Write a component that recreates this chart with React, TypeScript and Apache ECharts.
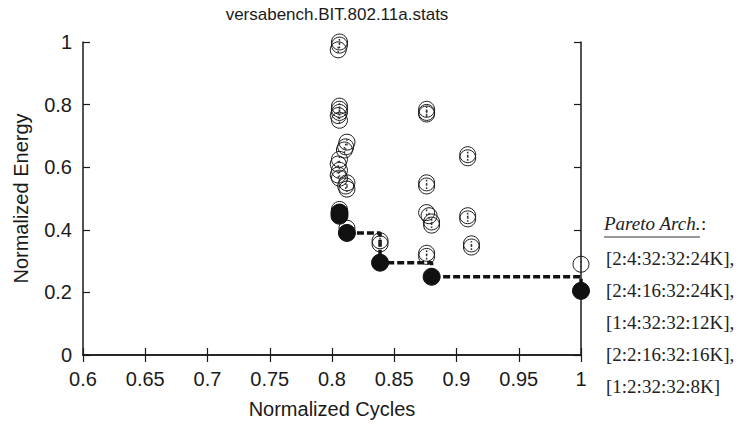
import React, { useEffect, useRef } from "react";
import * as echarts from "echarts";

const titleText = "versabench.BIT.802.11a.stats";
const xName = "Normalized Cycles";
const yName = "Normalized Energy";

// Open circles: all explored configurations [cycles, energy]
const openX = [
  0.806, 0.806, 0.805,
  0.806, 0.806, 0.806, 0.805, 0.806,
  0.812, 0.811, 0.810,
  0.806, 0.805, 0.806, 0.805, 0.806,
  0.812, 0.811, 0.812,
  0.806, 0.806,
  0.812,
  0.8386, 0.8386,
  0.876, 0.876, 0.876,
  0.876, 0.876,
  0.876, 0.878,
  0.880, 0.880,
  0.876, 0.876,
  0.909, 0.909,
  0.909, 0.909,
  0.912, 0.912,
  1.0,
];
const openY = [
  1.0, 0.99, 0.975,
  0.795, 0.785, 0.775, 0.765, 0.75,
  0.68, 0.665, 0.655,
  0.625, 0.61, 0.59, 0.575, 0.565,
  0.55, 0.54, 0.53,
  0.465, 0.455,
  0.405,
  0.365, 0.355,
  0.785, 0.775, 0.77,
  0.55, 0.54,
  0.455, 0.445,
  0.425, 0.415,
  0.325, 0.315,
  0.64, 0.63,
  0.445, 0.435,
  0.355, 0.345,
  0.29,
];

// Filled circles: Pareto-optimal configurations
const paretoX = [0.806, 0.806, 0.812, 0.8386, 0.88, 1.0];
const paretoY = [0.455, 0.445, 0.39, 0.295, 0.25, 0.205];

// Dashed Pareto frontier (step line)
const frontX = [0.812, 0.8386, 0.8386, 0.88, 0.88, 1.0, 1.0];
const frontY = [0.39, 0.39, 0.295, 0.295, 0.25, 0.25, 0.205];

const xTicks = { min: 0.6, max: 1, interval: 0.05 };
const yTicks = { min: 0, max: 1, interval: 0.2 };

const paretoTitle = "Pareto Arch.";
const paretoArchs = [
  "[2:4:32:32:24K],",
  "[2:4:16:32:24K],",
  "[1:4:32:32:12K],",
  "[2:2:16:32:16K],",
  "[1:2:32:32:8K]",
];

export default function App() {
  const ref = useRef<HTMLDivElement>(null);
  useEffect(() => {
    if (!ref.current) return;
    const chart = echarts.init(ref.current, null, { renderer: "svg" });
    const sans = "Liberation Sans, Arial, sans-serif";
    const serif = "Liberation Serif, Times New Roman, serif";
    const axisCommon = {
      axisLine: { show: true, lineStyle: { color: "#1a1a1a", width: 1.5 } },
      axisTick: { show: true, inside: true, length: 7, lineStyle: { color: "#1a1a1a", width: 1.2 } },
      splitLine: { show: false },
    };
    const legendGraphics: any[] = [
      {
        type: "text",
        left: 604,
        top: 214,
        style: { text: paretoTitle, font: `italic 19px ${serif}`, fill: "#222" },
      },
      {
        type: "text",
        left: 701,
        top: 214,
        style: { text: ":", font: `19px ${serif}`, fill: "#222" },
      },
      {
        type: "line",
        shape: { x1: 604, y1: 237, x2: 700, y2: 237 },
        style: { stroke: "#333", lineWidth: 1 },
      },
    ];
    paretoArchs.forEach((t, i) => {
      legendGraphics.push({
        type: "text",
        left: 606,
        top: 249 + i * 32,
        style: { text: t, font: `19px ${serif}`, fill: "#222" },
      });
    });

    chart.setOption({
      animation: false,
      backgroundColor: "#fff",
      title: {
        text: titleText,
        left: 332,
        top: 1,
        textAlign: "center",
        textStyle: { fontFamily: sans, fontSize: 17, fontWeight: "normal", color: "#1a1a1a" },
      },
      grid: { left: 83, right: 163, top: 42, bottom: 75 },
      xAxis: [
        {
          type: "value",
          ...xTicks,
          name: xName,
          nameLocation: "middle",
          nameGap: 44,
          nameTextStyle: { fontFamily: sans, fontSize: 20, color: "#1a1a1a" },
          axisLabel: { fontFamily: sans, fontSize: 20, color: "#1a1a1a", margin: 14, formatter: (v: number) => String(+v.toFixed(2)) },
          ...axisCommon,
        },
        {
          type: "value",
          position: "top",
          ...xTicks,
          axisLabel: { show: false },
          ...axisCommon,
        },
      ],
      yAxis: [
        {
          type: "value",
          ...yTicks,
          name: yName,
          nameLocation: "middle",
          nameGap: 52,
          nameTextStyle: { fontFamily: sans, fontSize: 20, color: "#1a1a1a" },
          axisLabel: { fontFamily: sans, fontSize: 20, color: "#1a1a1a", margin: 11, formatter: (v: number) => String(+v.toFixed(1)) },
          ...axisCommon,
        },
        {
          type: "value",
          position: "right",
          ...yTicks,
          axisLabel: { show: false },
          ...axisCommon,
        },
      ],
      series: [
        {
          type: "line",
          data: frontX.map((x, i) => [x, frontY[i]]),
          symbol: "none",
          lineStyle: { color: "#111", width: 3.5, type: [7, 3] },
          z: 2,
        },
        {
          type: "scatter",
          data: openX.map((x, i) => [x, openY[i]]),
          symbol: "circle",
          symbolSize: 16,
          itemStyle: { color: "rgba(255,255,255,0)", borderColor: "#1a1a1a", borderWidth: 1, opacity: 1 },
          z: 3,
        },
        {
          type: "scatter",
          data: openX.map((x, i) => [x, openY[i]]),
          symbol: "path://M0,0h2v2h-2zM0,5h2v2h-2z",
          symbolSize: [1.5, 6],
          itemStyle: { color: "#333", opacity: 1 },
          z: 3,
        },
        {
          type: "scatter",
          data: paretoX.map((x, i) => [x, paretoY[i]]),
          symbol: "circle",
          symbolSize: 17,
          itemStyle: { color: "#111", borderColor: "#111", borderWidth: 1, opacity: 1 },
          z: 4,
        },
      ],
      graphic: legendGraphics,
    });
    return () => chart.dispose();
  }, []);
  return <div ref={ref} style={{ position: "absolute", left: 0, top: 0, width: 744, height: 430 }} />;
}
